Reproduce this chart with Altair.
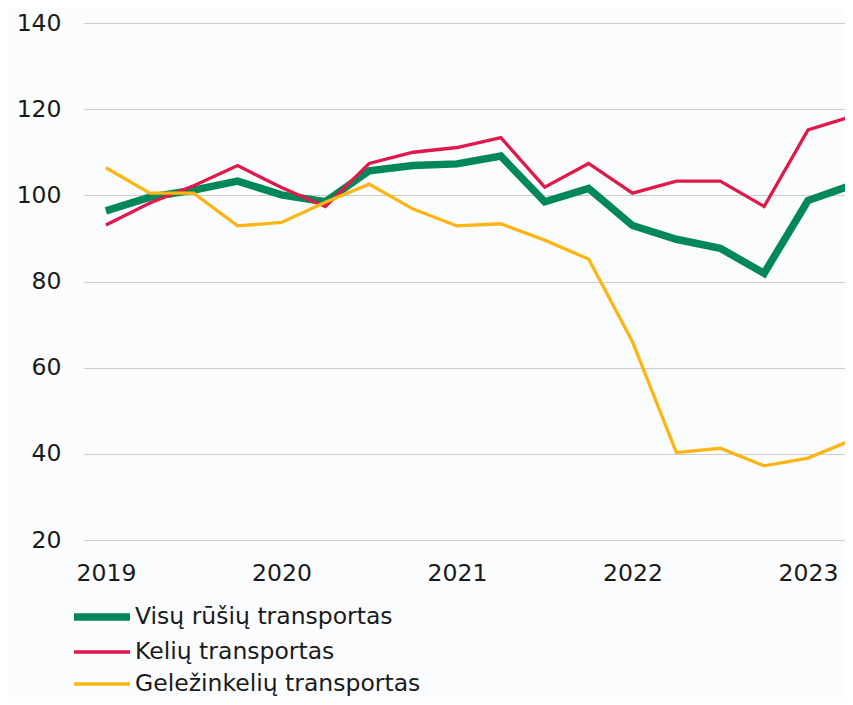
import altair as alt
import pandas as pd

quarters = ["2019 I", "2019 II", "2019 III", "2019 IV",
            "2020 I", "2020 II", "2020 III", "2020 IV",
            "2021 I", "2021 II", "2021 III", "2021 IV",
            "2022 I", "2022 II", "2022 III", "2022 IV",
            "2023 I", "2023 II"]
year_ticks = [0, 4, 8, 12, 16]
year_labels = ["2019", "2020", "2021", "2022", "2023"]
y_ticks = [20, 40, 60, 80, 100, 120, 140]

series_names = ["Visų rūšių transportas", "Kelių transportas", "Geležinkelių transportas"]
series_colors = ["#00875A", "#E0194B", "#FDB515"]
series_widths = [7.5, 3.3, 3.3]

visu = [96.4, 99.6, 101.2, 103.3, 100.1, 98.5, 105.7, 106.9, 107.3, 109.1,
        98.5, 101.6, 93.0, 89.8, 87.7, 81.9, 98.8, 102.4]
keliu = [93.1, 98.2, 102.2, 106.9, 101.8, 97.4, 107.4, 110.0, 111.1, 113.4,
         101.9, 107.4, 100.5, 103.3, 103.3, 97.4, 115.2, 118.3]
gelez = [106.4, 100.5, 100.5, 92.9, 93.7, 98.4, 102.6, 96.8, 92.9, 93.4,
         89.6, 85.2, 66.0, 40.3, 41.3, 37.2, 39.0, 43.2]

rows = []
for name, vals in zip(series_names, [visu, keliu, gelez]):
    for i, (q, v) in enumerate(zip(quarters, vals)):
        rows.append({"series": name, "quarter": q, "idx": i, "value": v})
df = pd.DataFrame(rows)

label_expr = "[" + ",".join("'" + s + "'" for s in year_labels) + "][floor(datum.value / 4)]"

FONT = "DejaVu Sans"
TXT = "#1A1A1A"

legend = alt.Legend(
    title=None, orient="none", legendX=0, legendY=576,
    symbolType="M-2,0L2,0", symbolSize=784, labelFontSize=23.5, labelFont=FONT,
    labelColor=TXT, labelOffset=15, rowPadding=4, padding=0, labelLimit=0,
)

chart = alt.Chart(df).mark_line(clip=True).encode(
    x=alt.X("idx:Q",
            scale=alt.Scale(domain=[-0.5, 16.843], nice=False, zero=False),
            axis=alt.Axis(values=year_ticks, labelExpr=label_expr, title=None, grid=False,
                          domain=False, ticks=False, labelPadding=21, labelFontSize=23.5,
                          labelFont=FONT, labelColor=TXT, labelFlush=False, labelOverlap=False)),
    y=alt.Y("value:Q",
            scale=alt.Scale(domain=[20, 140], nice=False, zero=False),
            axis=alt.Axis(values=y_ticks, title=None, domain=False, ticks=False,
                          labelPadding=23, labelFontSize=23.5, labelFont=FONT, labelColor=TXT,
                          gridColor="#CDCDCD", gridWidth=1.2)),
    color=alt.Color("series:N", sort=series_names,
                    scale=alt.Scale(domain=series_names, range=series_colors), legend=legend),
    strokeWidth=alt.StrokeWidth("series:N", sort=series_names,
                                scale=alt.Scale(type="ordinal", domain=series_names,
                                                range=series_widths),
                                legend=legend),
    order=alt.Order("idx:Q"),
).properties(
    width=761, height=517,
    autosize=alt.AutoSizeParams(type="none"),
    padding={"left": 76, "top": 15, "right": 0, "bottom": 157},
    background="#FBFCFD",
).configure_view(stroke=None)

chart.save("out.html", embed_options={"renderer": "svg", "actions": False})
